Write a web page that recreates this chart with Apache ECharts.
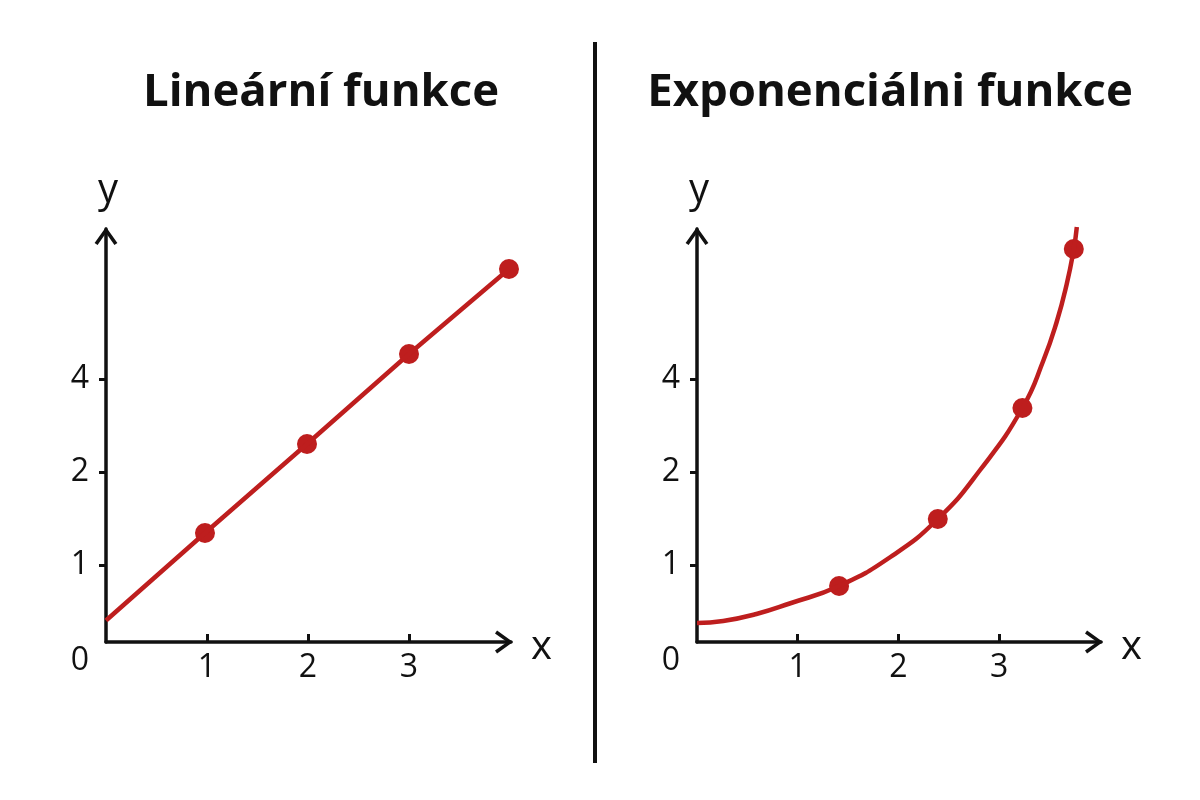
<!DOCTYPE html>
<html>
<head>
<meta charset="utf-8">
<script src="https://cdn.jsdelivr.net/npm/echarts@6/dist/echarts.min.js"></script>
<style>html,body{margin:0;padding:0;background:#fff}#c{width:1200px;height:800px}</style>
</head>
<body>
<div id="c"></div>
<script>
// ---- text ----
const titles = ['Lineární funkce', 'Exponenciálni funkce'];
const xName = 'x';
const yName = 'y';
const originLabel = '0';

// ---- tick labels ----
const xTickValues = [1, 2, 3];
const xTickLabels = ['1', '2', '3'];
// the y ticks sit at these heights on the drawn axis and carry these labels
const yTickPositions = [0.77, 1.70, 2.63];
const yTickLabels = ['1', '2', '4'];

// ---- linear panel (values in drawn-axis units) ----
const linStartX = 0;
const linStartY = 0.215;
const linDotsX = [0.98, 1.99, 3.00, 3.99];
const linDotsY = [1.09, 1.98, 2.88, 3.73];

// ---- exponential panel (values in drawn-axis units) ----
const expCurveX = [0, 0.26, 0.59, 0.92, 1.41, 1.92, 2.39, 2.81, 3.23, 3.44, 3.57, 3.67, 3.74, 3.77];
const expCurveY = [0.19, 0.21, 0.28, 0.385, 0.56, 0.85, 1.23, 1.72, 2.34, 2.82, 3.20, 3.58, 3.93, 4.15];
const expDotsX = [1.41, 2.39, 3.23, 3.74];
const expDotsY = [0.56, 1.23, 2.34, 3.93];

// ---- styles ----
const INK = '#111111';
const RED = '#be1e1e';
const FONT = 'Open Sans';
const ARROW = 'path://M10,0 L20,14 L17.4,15.8 L10,5.2 L2.6,15.8 L0,14 Z';

const zip = (xs, ys) => xs.map((x, i) => [x, ys[i]]);

function makeX(gridIndex, max) {
  return {
    type: 'value', gridIndex, min: 0, max,
    name: xName, nameLocation: 'end', nameGap: 20,
    nameTextStyle: { fontSize: 40, color: INK, fontFamily: FONT, verticalAlign: 'top',
      lineHeight: 12 },
    axisLine: { show: true, lineStyle: { color: INK, width: 3.5 },
      symbol: ['none', ARROW], symbolSize: [24, 18], symbolOffset: [0, -7] },
    axisTick: { show: true, customValues: xTickValues, inside: true, length: 8,
      lineStyle: { color: INK, width: 3 } },
    axisLabel: { show: true, customValues: xTickValues, margin: 10, fontSize: 32,
      color: INK, fontFamily: FONT,
      formatter: v => xTickLabels[xTickValues.indexOf(v)] },
    splitLine: { show: false }
  };
}
function makeY(gridIndex, max) {
  return {
    type: 'value', gridIndex, min: 0, max,
    name: yName, nameLocation: 'end', nameGap: 18,
    nameTextStyle: { fontSize: 40, color: INK, fontFamily: FONT, align: 'center',
      padding: [0, 0, 0, 4] },
    axisLine: { show: true, onZero: false, lineStyle: { color: INK, width: 3.5 },
      symbol: ['none', ARROW], symbolSize: [24, 18], symbolOffset: [0, -7] },
    axisTick: { show: true, customValues: yTickPositions, inside: false, length: 6,
      lineStyle: { color: INK, width: 3 } },
    axisLabel: { show: true, customValues: yTickPositions, margin: 17, fontSize: 32,
      color: INK, fontFamily: FONT,
      formatter: v => yTickLabels[yTickPositions.indexOf(v)] },
    splitLine: { show: false }
  };
}
function makeYInner(gridIndex, max) {
  return {
    type: 'value', gridIndex, min: 0, max,
    axisLine: { show: false },
    axisTick: { show: true, customValues: yTickPositions, inside: true, length: 7,
      lineStyle: { color: INK, width: 3 } },
    axisLabel: { show: false },
    splitLine: { show: false }
  };
}

const chart = echarts.init(document.getElementById('c'), null, { renderer: 'canvas' });
chart.setOption({
  animation: false,
  backgroundColor: '#ffffff',
  title: [
    { text: titles[0], left: 321, top: 70, textAlign: 'center', padding: 0,
      textStyle: { fontSize: 45.5, fontWeight: 'bold', fontFamily: FONT, color: INK } },
    { text: titles[1], left: 890, top: 70, textAlign: 'center', padding: 0,
      textStyle: { fontSize: 45.5, fontWeight: 'bold', fontFamily: FONT, color: INK } }
  ],
  grid: [
    { left: 106, top: 229, width: 405, height: 413 },
    { left: 697, top: 229, width: 404, height: 413 }
  ],
  xAxis: [makeX(0, 4.01), makeX(1, 4.01)],
  yAxis: [makeY(0, 4.13), makeYInner(0, 4.13), makeY(1, 4.13), makeYInner(1, 4.13)],
  graphic: [
    { type: 'line', shape: { x1: 595, y1: 42, x2: 595, y2: 763 },
      style: { stroke: INK, lineWidth: 4 } },
    { type: 'text', x: 80, y: 661, style: { text: originLabel, textAlign: 'center',
      textVerticalAlign: 'middle', fontSize: 32, fontFamily: FONT, fill: INK } },
    { type: 'text', x: 671, y: 661, style: { text: originLabel, textAlign: 'center',
      textVerticalAlign: 'middle', fontSize: 32, fontFamily: FONT, fill: INK } }
  ],
  series: [
    { type: 'line', xAxisIndex: 0, yAxisIndex: 0, silent: true,
      data: [[linStartX, linStartY]].concat(zip(linDotsX, linDotsY)),
      showSymbol: false, lineStyle: { color: RED, width: 4.5 } },
    { type: 'scatter', xAxisIndex: 0, yAxisIndex: 0, silent: true,
      data: zip(linDotsX, linDotsY), symbolSize: 20, itemStyle: { color: RED, opacity: 1 } },
    { type: 'line', xAxisIndex: 1, yAxisIndex: 2, silent: true, clip: false,
      data: zip(expCurveX, expCurveY), smooth: 0.5,
      showSymbol: false, lineStyle: { color: RED, width: 4.5 } },
    { type: 'scatter', xAxisIndex: 1, yAxisIndex: 2, silent: true,
      data: zip(expDotsX, expDotsY), symbolSize: 20, itemStyle: { color: RED, opacity: 1 } }
  ]
});
</script>
</body>
</html>
